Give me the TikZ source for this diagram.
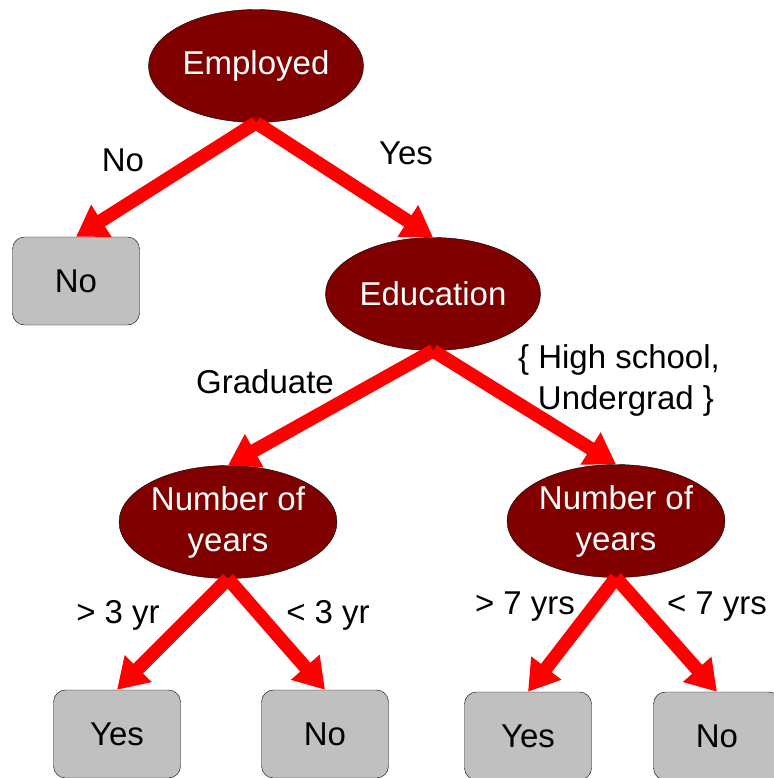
\documentclass[tikz,border=0pt]{standalone}
\usepackage{fontspec}
\setmainfont{Liberation Sans}
\usetikzlibrary{arrows.meta,shapes.geometric}
\definecolor{maroon}{HTML}{800000}
\definecolor{silver}{HTML}{C0C0C0}
\definecolor{red}{HTML}{FF0000}

\begin{document}
\begin{tikzpicture}[x=1pt, y=-1pt,
    font=\fontsize{33}{41}\selectfont,
    test/.style={ellipse, draw=black, thin, fill=maroon, text=white, align=center,
        minimum width=215pt, minimum height=113pt, inner sep=0pt},
    leaf/.style={rectangle, rounded corners=12pt, draw=black, thin, fill=silver,
        minimum width=127pt, minimum height=88pt, inner sep=0pt},
    branch/.style={draw=red, line width=13.5pt, -{Triangle[width=36pt, length=30pt]}},
    lbl/.style={align=center, inner sep=0pt}]
\useasboundingbox (0, 0) rectangle (773, 778);

% nodes
\node[test] (emp) at (256, 66) {Employed};
\node[leaf] (no1) at (76, 281) {No};
\node[test] (edu) at (433, 294) {Education};
\node[test] (yrsL) at (228, 522) {Number of\\years};
\node[test] (yrsR) at (616, 521) {Number of\\years};
\node[leaf] (yes2) at (117, 734) {Yes};
\node[leaf] (no2) at (325, 734) {No};
\node[leaf] (yes3) at (528, 736) {Yes};
\node[leaf] (no3) at (717, 736) {No};

% edges
\draw[branch] (emp.south) -- (no1.north);
\draw[branch] (emp.south) -- (edu.north);
\draw[branch] (edu.south) -- (yrsL.north);
\draw[branch] (edu.south) -- (yrsR.north);
\draw[branch] (yrsL.south) -- (yes2.north);
\draw[branch] (yrsL.south) -- (no2.north);
\draw[branch] (yrsR.south) -- (yes3.north);
\draw[branch] (yrsR.south) -- (no3.north);

% edge labels
\node[lbl] (lNo) at (123, 160) {No};
\node[lbl] (lYes) at (406, 153) {Yes};
\node[lbl] (lGrad) at (265, 382) {Graduate};
\node[lbl] (lHigh) at (619, 380) {\{ High school,\\\hspace*{14pt}Undergrad \}};
\node[lbl] (lgt3) at (118, 615) {> 3 yr};
\node[lbl] (llt3) at (328, 615) {< 3 yr};
\node[lbl] (lgt7) at (525, 607) {> 7 yrs};
\node[lbl] (llt7) at (717, 607) {< 7 yrs};

\end{tikzpicture}
\end{document}
